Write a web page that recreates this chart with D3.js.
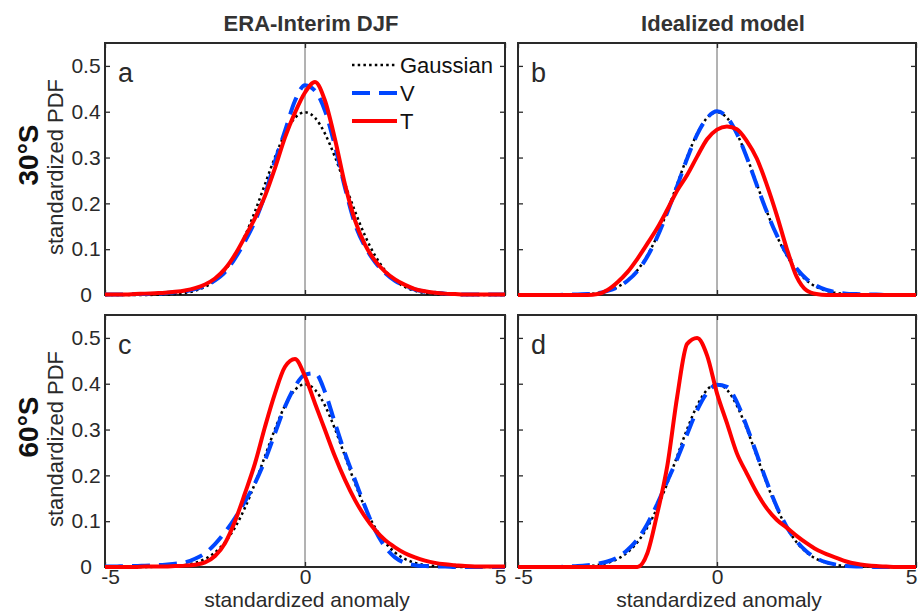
<!DOCTYPE html>
<html>
<head>
<meta charset="utf-8">
<script src="https://cdn.jsdelivr.net/npm/d3@7"></script>
<style>
  body { margin: 0; background: #fff; }
  svg { font-family: "Liberation Sans", Arial, sans-serif; }
</style>
</head>
<body>
<svg id="chart" width="922" height="613"></svg>
<script>
// standardized anomaly grid shared by every curve
const xGrid = [-5, -4.75, -4.5, -4.25, -4, -3.75, -3.5, -3.25, -3, -2.75, -2.5, -2.25, -2, -1.75, -1.5, -1.25, -1, -0.75, -0.5, -0.25,
  0, 0.25, 0.5, 0.75, 1, 1.25, 1.5, 1.75, 2, 2.25, 2.5, 2.75, 3, 3.25, 3.5, 3.75, 4, 4.25, 4.5, 4.75, 5];

// reference Gaussian (same in every panel)
const gaussian = [0, 0, 0, 0, 0.0001, 0.0004, 0.0009, 0.002, 0.0044, 0.0091, 0.0175, 0.0317, 0.054, 0.0863, 0.1295, 0.1826, 0.242, 0.3011, 0.3521, 0.3867,
  0.3989, 0.3867, 0.3521, 0.3011, 0.242, 0.1826, 0.1295, 0.0863, 0.054, 0.0317, 0.0175, 0.0091, 0.0044, 0.002, 0.0009, 0.0004, 0.0001, 0, 0, 0, 0];

// a: ERA-Interim 30S
const eraV30 = [0.001, 0.001, 0.001, 0.002, 0.002, 0.003, 0.004, 0.006, 0.008, 0.013, 0.02, 0.032, 0.05, 0.08, 0.117, 0.161, 0.219, 0.292, 0.358, 0.424,
  0.458, 0.446, 0.402, 0.325, 0.234, 0.155, 0.106, 0.072, 0.048, 0.031, 0.02, 0.012, 0.007, 0.005, 0.003, 0.002, 0.001, 0.001, 0.001, 0.001, 0.001];
const eraT30 = [0.001, 0.001, 0.001, 0.002, 0.003, 0.004, 0.005, 0.007, 0.01, 0.015, 0.023, 0.036, 0.057, 0.088, 0.127, 0.168, 0.216, 0.277, 0.344, 0.398,
  0.442, 0.465, 0.424, 0.34, 0.241, 0.163, 0.11, 0.075, 0.051, 0.034, 0.022, 0.013, 0.008, 0.005, 0.003, 0.002, 0.001, 0.001, 0.001, 0.001, 0.001];

// b: idealized model 30S
const idealV30 = [0, 0, 0, 0, 0, 0.001, 0.001, 0.002, 0.004, 0.009, 0.017, 0.031, 0.052, 0.084, 0.127, 0.18, 0.238, 0.298, 0.35, 0.386,
  0.401, 0.388, 0.352, 0.3, 0.24, 0.182, 0.131, 0.09, 0.058, 0.035, 0.02, 0.011, 0.006, 0.003, 0.002, 0.001, 0.001, 0, 0, 0, 0];
const idealT30 = [0, 0, 0, 0, 0, 0, 0, 0, 0.002, 0.011, 0.028, 0.05, 0.079, 0.112, 0.146, 0.186, 0.228, 0.262, 0.302, 0.34,
  0.361, 0.368, 0.362, 0.336, 0.298, 0.241, 0.175, 0.102, 0.04, 0.01, 0.002, 0, 0, 0, 0, 0, 0, 0, 0, 0, 0];

// c: ERA-Interim 60S
const eraV60 = [0.001, 0.001, 0.002, 0.002, 0.003, 0.004, 0.005, 0.007, 0.01, 0.018, 0.03, 0.05, 0.076, 0.107, 0.143, 0.183, 0.233, 0.292, 0.35, 0.394,
  0.42, 0.423, 0.382, 0.314, 0.248, 0.19, 0.132, 0.081, 0.044, 0.021, 0.009, 0.004, 0.002, 0.001, 0.001, 0, 0, 0, 0, 0, 0];
const eraT60 = [0, 0, 0, 0, 0.001, 0.001, 0.001, 0.002, 0.003, 0.005, 0.01, 0.024, 0.052, 0.1, 0.161, 0.226, 0.306, 0.379, 0.437, 0.454,
  0.416, 0.357, 0.299, 0.241, 0.19, 0.146, 0.11, 0.081, 0.059, 0.043, 0.03, 0.021, 0.014, 0.009, 0.006, 0.004, 0.002, 0.001, 0.001, 0.001, 0.001];

// d: idealized model 60S
const idealV60 = [0, 0, 0, 0, 0, 0.001, 0.002, 0.004, 0.007, 0.012, 0.021, 0.037, 0.06, 0.094, 0.138, 0.187, 0.236, 0.29, 0.342, 0.38,
  0.398, 0.393, 0.36, 0.306, 0.246, 0.186, 0.132, 0.088, 0.056, 0.034, 0.019, 0.01, 0.005, 0.002, 0.001, 0.001, 0, 0, 0, 0, 0];
const idealT60 = [0, 0, 0, 0, 0, 0, 0, 0, 0, 0, 0, 0, 0, 0.03, 0.117, 0.22, 0.372, 0.487, 0.5, 0.462,
  0.379, 0.314, 0.248, 0.204, 0.162, 0.128, 0.103, 0.086, 0.068, 0.052, 0.038, 0.028, 0.02, 0.012, 0.007, 0.004, 0.002, 0.001, 0, 0, 0];

const xTicks = [-5, 0, 5];
const xTickLabels = ["-5", "0", "5"];
const yTicks = [0, 0.1, 0.2, 0.3, 0.4, 0.5];
const yTickLabels = ["0", "0.1", "0.2", "0.3", "0.4", "0.5"];
const columnTitles = ["ERA-Interim DJF", "Idealized model"];
const rowTitles = ["30°S", "60°S"];
const panelLetters = ["a", "b", "c", "d"];
const legendNames = ["Gaussian", "V", "T"];

const svg = d3.select("#chart");
const ink = "#2a2a2a";

const colX = [[105, 505], [518, 916]];
const rowY = [[43, 295], [315, 567]];

const styles = [
  { color: "#000", width: 2.5, dash: "2.5,3.2" },
  { color: "#0046ff", width: 4, dash: "18,9" },
  { color: "#ff0000", width: 4, dash: null }
];

const panels = [
  { row: 0, col: 0, series: [gaussian, eraV30, eraT30] },
  { row: 0, col: 1, series: [gaussian, idealV30, idealT30] },
  { row: 1, col: 0, series: [gaussian, eraV60, eraT60] },
  { row: 1, col: 1, series: [gaussian, idealV60, idealT60] }
];

panels.forEach((p, i) => {
  const x = d3.scaleLinear().domain([-5, 5]).range(colX[p.col]);
  const y = d3.scaleLinear().domain([0, 0.55]).range([rowY[p.row][1], rowY[p.row][0]]);
  const g = svg.append("g");
  const [x0, x1] = x.range();
  const [yb, yt] = y.range();

  g.append("clipPath").attr("id", "clip" + i)
    .append("rect").attr("x", x0).attr("y", yt - 2).attr("width", x1 - x0).attr("height", yb - yt + 4);

  // zero line
  g.append("line")
    .attr("x1", x(0)).attr("x2", x(0)).attr("y1", yb).attr("y2", yt)
    .attr("stroke", "#666").attr("stroke-width", 1);

  // axes (inward ticks on all four sides)
  const left = g.append("g").attr("transform", `translate(${x0},0)`)
    .call(d3.axisLeft(y).tickValues(yTicks).tickSize(-5)
      .tickFormat((d, k) => p.col === 0 ? yTickLabels[k] : ""));
  left.selectAll("text").attr("x", -19).attr("text-anchor", "middle");
  g.append("g").attr("transform", `translate(${x1},0)`)
    .call(d3.axisRight(y).tickValues(yTicks).tickSize(-5).tickFormat(""));
  const bottom = g.append("g").attr("transform", `translate(0,${yb})`)
    .call(d3.axisBottom(x).tickValues(xTicks).tickSize(-5).tickPadding(2)
      .tickFormat((d, k) => p.row === 1 ? xTickLabels[k] : ""));
  bottom.selectAll("text").attr("x", d => d === -5 ? 5 : d === 5 ? -5 : 0);
  g.append("g").attr("transform", `translate(0,${yt})`)
    .call(d3.axisTop(x).tickValues(xTicks).tickSize(-5).tickFormat(""));

  g.selectAll(".domain").remove();
  g.selectAll(".tick line").attr("stroke", ink).attr("stroke-width", 1.3);
  g.selectAll(".tick text").attr("fill", ink).style("font-size", "21px")
    .style("font-family", "'Liberation Sans', Arial, sans-serif");

  // frame
  g.append("rect")
    .attr("x", x0).attr("y", yt).attr("width", x1 - x0).attr("height", yb - yt)
    .attr("fill", "none").attr("stroke", ink).attr("stroke-width", 2);

  // curves
  const line = d3.line()
    .x((d, k) => x(xGrid[k]))
    .y(d => y(d))
    .curve(d3.curveMonotoneX);
  p.series.forEach((s, k) => {
    g.append("path")
      .datum(s)
      .attr("clip-path", `url(#clip${i})`)
      .attr("d", line)
      .attr("fill", "none")
      .attr("stroke", styles[k].color)
      .attr("stroke-width", styles[k].width)
      .attr("stroke-dasharray", styles[k].dash)
      .attr("stroke-linejoin", "round");
  });

  // panel letter
  g.append("text")
    .attr("x", x0 + 13).attr("y", yt + 39)
    .attr("fill", ink).style("font-size", "27px")
    .text(panelLetters[i]);

  // legend only in panel a
  if (i === 0) {
    legendNames.forEach((name, k) => {
      const ly = yt + 22 + k * 28;
      g.append("line")
        .attr("x1", 352).attr("x2", 397).attr("y1", ly).attr("y2", ly)
        .attr("stroke", styles[k].color)
        .attr("stroke-width", styles[k].width)
        .attr("stroke-dasharray", styles[k].dash);
      g.append("text")
        .attr("x", 400).attr("y", ly + 8)
        .attr("fill", "#111").style("font-size", "22px")
        .text(name);
    });
  }

  // column titles and x labels
  if (p.row === 0) {
    svg.append("text")
      .attr("x", (x0 + x1) / 2 + 6).attr("y", 31)
      .attr("text-anchor", "middle").attr("fill", "#333")
      .style("font-size", "22px").style("font-weight", "bold")
      .text(columnTitles[p.col]);
  } else {
    svg.append("text")
      .attr("x", (x0 + x1) / 2 + 2).attr("y", 607)
      .attr("text-anchor", "middle").attr("fill", ink)
      .style("font-size", "21px")
      .text("standardized anomaly");
  }

  // row titles and y labels
  if (p.col === 0) {
    const cy = (yt + yb) / 2;
    svg.append("text")
      .attr("transform", `translate(38,${cy - 14}) rotate(-90)`)
      .attr("text-anchor", "middle").attr("fill", "#111")
      .style("font-size", "28px").style("font-weight", "bold")
      .text(rowTitles[p.row]);
    svg.append("text")
      .attr("transform", `translate(63,${cy - 2}) rotate(-90)`)
      .attr("text-anchor", "middle").attr("fill", ink)
      .style("font-size", "22px")
      .text("standardized PDF");
  }
});
</script>
</body>
</html>
